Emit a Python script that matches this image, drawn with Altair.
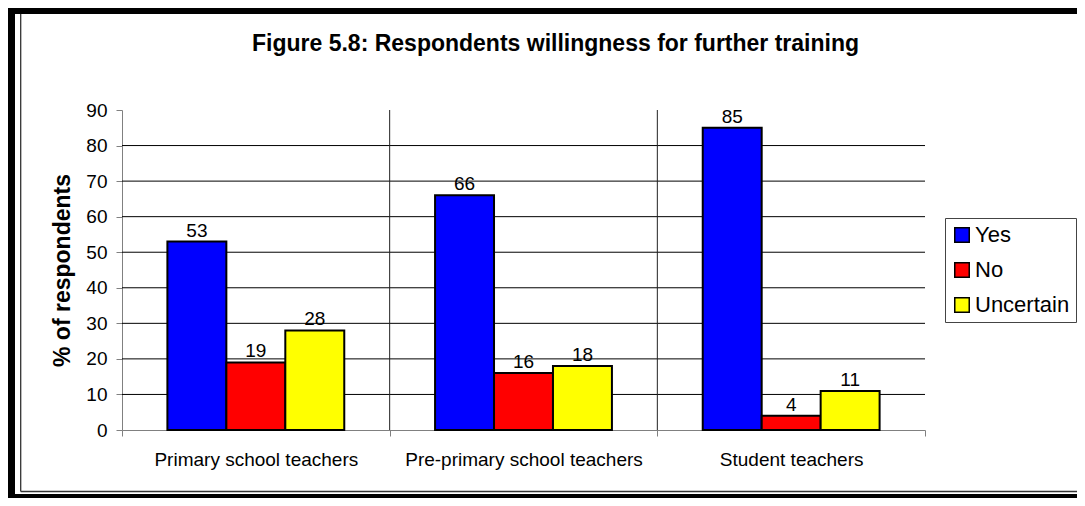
import altair as alt
import pandas as pd

# ---- data ----
categories = ["Primary school teachers", "Pre-primary school teachers", "Student teachers"]
answers = ["Yes", "No", "Uncertain"]
yes_pct = [53, 66, 85]
no_pct = [19, 16, 4]
uncertain_pct = [28, 18, 11]
y_tick_values = [0, 10, 20, 30, 40, 50, 60, 70, 80, 90]
gridline_values = [10, 20, 30, 40, 50, 60, 70, 80]
answer_colors = ["#0000FF", "#FF0000", "#FFFF00"]
title_text = "Figure 5.8: Respondents willingness for further training"
y_title = "% of respondents"

rows = []
for i, cat in enumerate(categories):
    for ans, vals in zip(answers, [yes_pct, no_pct, uncertain_pct]):
        rows.append({"group": cat, "answer": ans, "pct": vals[i]})
df = pd.DataFrame(rows)
grid_df = pd.DataFrame({"v": gridline_values})
sep_df = pd.DataFrame({"group": categories[1:]})

FONT = "Liberation Sans"
W, H = 803, 320

x_scale = alt.Scale(domain=categories, paddingInner=0, paddingOuter=0)
y_scale = alt.Scale(domain=[0, 90], nice=False, zero=True)
off_scale = alt.Scale(domain=answers, paddingInner=0, paddingOuter=0.77)
color_scale = alt.Scale(domain=answers, range=answer_colors)

x_axis = alt.Axis(
    title=None, tickBand="extent", labelAngle=0, labelFont=FONT, labelFontSize=19,
    labelColor="black", labelPadding=14, tickSize=6, tickColor="#808080",
    domainColor="#808080", grid=False, labelLimit=0,
)
y_axis = alt.Axis(
    title=y_title, values=y_tick_values, labelFont=FONT, labelFontSize=19,
    labelColor="black", labelPadding=9, tickSize=6, tickColor="#808080",
    domainColor="#808080", grid=False, titleFont=FONT, titleFontSize=23,
    titleFontWeight="bold", titleColor="black", titlePadding=11,
)

X = alt.X("group:N", scale=x_scale, sort=categories, axis=x_axis)
Y = alt.Y("pct:Q", scale=y_scale, axis=y_axis)
XO = alt.XOffset("answer:N", scale=off_scale, sort=answers)

grid = alt.Chart(grid_df).mark_rule(color="black", strokeWidth=1).encode(
    y=alt.Y("v:Q", scale=y_scale, axis=y_axis)
)
seps = alt.Chart(sep_df).mark_rule(color="#222222", strokeWidth=1).encode(
    x=alt.X("group:N", scale=x_scale, sort=categories, axis=x_axis, bandPosition=0)
)
bars = alt.Chart(df).mark_bar(stroke="black", strokeWidth=2).encode(
    x=X, xOffset=XO, y=Y,
    color=alt.Color(
        "answer:N", scale=color_scale, sort=answers,
        legend=alt.Legend(
            title=None, orient="none", legendX=823, legendY=108, direction="vertical",
            fillColor="white", strokeColor="#444444", padding=6,
            symbolType="square", symbolSize=210, symbolStrokeColor="black",
            symbolStrokeWidth=1.5, labelFont=FONT, labelFontSize=22, labelColor="black",
            labelOffset=2, rowPadding=13,
        ),
    ),
)
labels = alt.Chart(df).mark_text(
    baseline="alphabetic", dy=-5, font=FONT, fontSize=19, color="black"
).encode(x=X, xOffset=XO, y=Y, text=alt.Text("pct:Q"))


def frame_line(x, x2, y, y2, width, color):
    return alt.Chart(alt.Data(values=[{"k": 1}])).mark_rule(
        color=color, strokeWidth=width
    ).encode(x=alt.value(x), x2=alt.value(x2), y=alt.value(y), y2=alt.value(y2))


frame = [
    frame_line(-110.5, -110.5, -103, 388, 7, "black"),
    frame_line(-114, 955, -99.5, -99.5, 7, "black"),
    frame_line(-114, 955, 386, 386, 4, "black"),
    frame_line(-101.3, -101.3, -96, 381.5, 1.3, "#333333"),
    frame_line(-101.3, 955, 381.5, 381.5, 1.3, "#333333"),
]

chart = alt.layer(grid, seps, bars, labels, *frame).properties(
    width=W, height=H,
    autosize=alt.AutoSizeParams(type="none"),
    padding={"left": 114, "top": 102, "right": 152, "bottom": 68},
    background="white",
    title=alt.TitleParams(
        text=title_text, font=FONT, fontSize=23, fontWeight="bold", color="black",
        anchor="middle", dx=32, baseline="alphabetic", offset=-70,
    ),
).configure_view(strokeWidth=0)

chart.save("out.html", embed_options={"renderer": "svg", "actions": False})
